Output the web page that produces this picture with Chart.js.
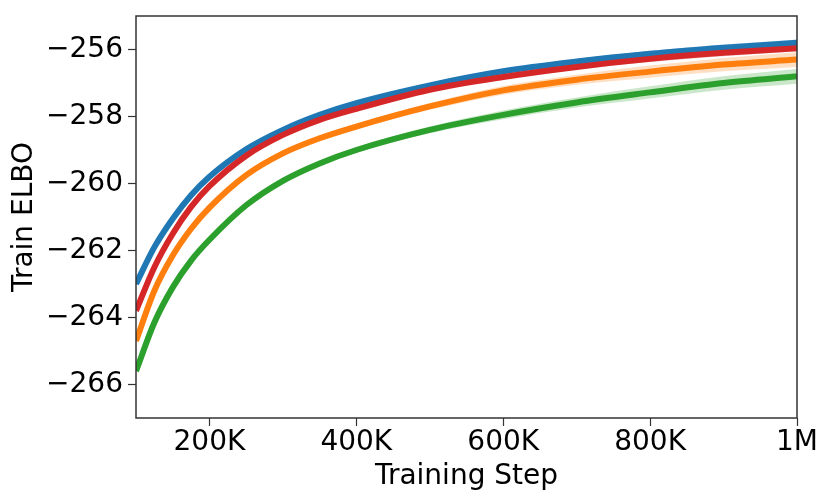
<!DOCTYPE html>
<html>
<head>
<meta charset="utf-8">
<script src="https://cdn.jsdelivr.net/npm/chart.js@4/dist/chart.umd.min.js"></script>
<style>
  html, body { margin: 0; padding: 0; background: #fff; }
  #wrap { width: 831px; height: 503px; }
</style>
</head>
<body>
<div id="wrap"><canvas id="elboChart" width="831" height="503"></canvas></div>
<script>
// passos de treino (eixo x)
const steps = [100000, 125000, 150000, 175000, 200000, 250000, 300000, 350000, 400000, 500000, 600000, 700000, 800000, 900000, 1000000];

// ELBO de cada curva
const blueElbo   = [-263.0, -261.9, -261.05, -260.35, -259.8, -258.98, -258.4, -257.95, -257.6, -257.07, -256.65, -256.36, -256.13, -255.95, -255.8];
const redElbo    = [-263.8, -262.5, -261.5, -260.7, -260.08, -259.17, -258.55, -258.1, -257.77, -257.2, -256.82, -256.52, -256.28, -256.1, -255.96];
const orangeElbo = [-264.7, -263.2, -262.15, -261.35, -260.72, -259.75, -259.1, -258.65, -258.3, -257.7, -257.22, -256.9, -256.66, -256.45, -256.3];
const greenElbo  = [-265.6, -264.15, -263.1, -262.3, -261.68, -260.65, -259.92, -259.4, -259.0, -258.4, -257.95, -257.58, -257.28, -257.0, -256.8];

// meia largura da faixa sombreada
const blueSpread   = [0.02, 0.02, 0.02, 0.02, 0.03, 0.03, 0.04, 0.04, 0.05, 0.06, 0.07, 0.08, 0.09, 0.1, 0.1];
const redSpread    = [0.02, 0.02, 0.02, 0.02, 0.03, 0.03, 0.04, 0.04, 0.05, 0.06, 0.07, 0.08, 0.09, 0.1, 0.1];
const orangeSpread = [0.02, 0.02, 0.03, 0.03, 0.04, 0.05, 0.06, 0.07, 0.08, 0.1, 0.13, 0.15, 0.18, 0.2, 0.22];
const greenSpread  = [0.02, 0.02, 0.03, 0.03, 0.04, 0.05, 0.06, 0.07, 0.08, 0.1, 0.13, 0.15, 0.18, 0.2, 0.22];

const xTicks = [200000, 400000, 600000, 800000, 1000000];
const yTicks = [-266, -264, -262, -260, -258, -256];

const series = [
    { nome: 'blue', data: blueElbo, spread: blueSpread, cor: '#1f77b4', fundo: 'rgba(31,119,180,0.25)', ordem: 1 },
    { nome: 'orange', data: orangeElbo, spread: orangeSpread, cor: '#ff7f0e', fundo: 'rgba(255,127,14,0.25)', ordem: 3 },
    { nome: 'green', data: greenElbo, spread: greenSpread, cor: '#2ca02c', fundo: 'rgba(44,160,44,0.25)', ordem: 4 },
    { nome: 'red', data: redElbo, spread: redSpread, cor: '#d62728', fundo: 'rgba(214,39,40,0.25)', ordem: 0 },
];

const datasets = [];
series.forEach(s => {
    // faixa: limite superior e inferior
    datasets.push({
        data: steps.map((x, i) => ({ x: x, y: s.data[i] + s.spread[i] })),
        borderWidth: 0, pointRadius: 0, fill: '+1',
        backgroundColor: s.fundo, order: 10 + s.ordem, cubicInterpolationMode: 'monotone'
    });
    datasets.push({
        data: steps.map((x, i) => ({ x: x, y: s.data[i] - s.spread[i] })),
        borderWidth: 0, pointRadius: 0, fill: false,
        order: 10 + s.ordem, cubicInterpolationMode: 'monotone'
    });
});
series.forEach(s => {
    datasets.push({
        label: s.nome,
        data: steps.map((x, i) => ({ x: x, y: s.data[i] })),
        borderColor: s.cor, borderWidth: 6, pointRadius: 0, fill: false,
        order: s.ordem, cubicInterpolationMode: 'monotone'
    });
});

const formatStep = v => v >= 1000000 ? (v / 1000000) + 'M' : (v / 1000) + 'K';

// caixa em volta da área do gráfico
const frame = {
    id: 'frame',
    afterDraw(chart) {
        const a = chart.chartArea;
        const ctx = chart.ctx;
        ctx.save();
        ctx.strokeStyle = '#333';
        ctx.lineWidth = 1.5;
        ctx.strokeRect(a.left, a.top, a.right - a.left, a.bottom - a.top);
        ctx.restore();
    }
};

const fonte = { family: 'DejaVu Sans', size: 28 };

new Chart(document.getElementById('elboChart').getContext('2d'), {
    type: 'line',
    data: { datasets: datasets },
    plugins: [frame],
    options: {
        responsive: false,
        animation: false,
        layout: { padding: { top: 16, right: 34, left: 0, bottom: 0 } },
        plugins: { legend: { display: false }, tooltip: { enabled: false } },
        scales: {
            x: {
                type: 'linear',
                min: 100000,
                max: 1000000,
                afterBuildTicks: scale => { scale.ticks = xTicks.map(v => ({ value: v })); },
                afterFit: scale => { scale.height = 85; scale.paddingLeft = 0; scale.paddingRight = 0; },
                grid: { drawOnChartArea: false, tickLength: 8, color: '#333', tickWidth: 1.2 },
                border: { display: false },
                ticks: { color: '#000', font: fonte, padding: 0, maxRotation: 0, callback: v => formatStep(v) },
                title: { display: true, text: 'Training Step', color: '#000', font: fonte, padding: { top: 0, bottom: 9 } }
            },
            y: {
                min: -267,
                max: -255,
                afterBuildTicks: scale => { scale.ticks = yTicks.map(v => ({ value: v })); },
                afterFit: scale => { scale.width = 136; scale.paddingTop = 0; scale.paddingBottom = 0; },
                grid: { drawOnChartArea: false, tickLength: 8, color: '#333', tickWidth: 1.2 },
                border: { display: false },
                ticks: { color: '#000', font: fonte, padding: 5, callback: v => '\u2212' + Math.abs(v) },
                title: { display: true, text: 'Train ELBO', color: '#000', font: fonte, padding: { top: 8, bottom: 0 } }
            }
        }
    }
});
</script>
</body>
</html>
